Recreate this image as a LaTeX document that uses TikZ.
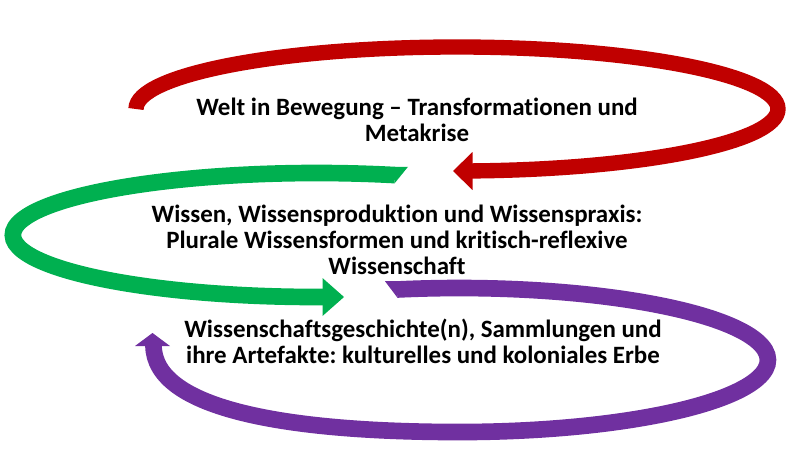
\documentclass[tikz,border=0pt]{standalone}
\usepackage{fontspec}
\setmainfont{Carlito}[Ligatures={NoCommon}]
\frenchspacing
\definecolor{weltred}{RGB}{192,0,0}
\definecolor{wissengreen}{RGB}{0,176,80}
\definecolor{erbepurple}{RGB}{112,48,160}
\tikzset{every picture/.style={line width=0.75pt}}
\tikzset{
  band/.style={line width=#1, line cap=butt},
  blocktext/.style={font=\bfseries\fontsize{18.7}{19.6}\selectfont, align=center, inner sep=0pt}
}

\begin{document}
\begin{tikzpicture}[x=0.75pt,y=0.75pt,yscale=-1,xscale=1]
	\useasboundingbox (0,0) rectangle (800,450);

	%Shape: Curved Arrow Red [id:weltarrow]
	\draw [band=11.5pt, draw=weltred] (136,109) arc [start angle=180, end angle=447.3, x radius=321, y radius=62] ;
	\fill [weltred] (472.5,152) -- (453,171) -- (472.5,190) -- cycle ;

	%Shape: Curved Arrow Green [id:wissenarrow]
	\draw [band=12.5pt, draw=wissengreen] (395,175.1) arc [start angle=284.9, end angle=88.8, x radius=304, y radius=62] ;
	\fill [wissengreen] (394.5,166.8) -- (408,166.8) -- (394.5,183.4) -- cycle ;
	\fill [wissengreen] (322.5,278) -- (344,297) -- (322.5,316) -- cycle ;

	%Shape: Curved Arrow Purple [id:erbearrow]
	\draw [band=12.5pt, draw=erbepurple] (397,289.5) arc [start angle=258.43, end angle=450, x radius=309, y radius=72] .. controls (290,432) and (154,410) .. (153.5,345.5) ;
	\fill [erbepurple] (397.5,281.2) -- (385,281.2) -- (397.5,297.8) -- cycle ;
	\fill [erbepurple] (135,346) -- (152.5,333) -- (170,346) -- cycle ;

	% Text Node
	\node [blocktext] (welt) at (417,120) {Welt in Bewegung – Transformationen und\\Metakrise};
	% Text Node
	\node [blocktext] (wissen) at (397,240) {Wissen, Wissensproduktion und Wissenspraxis:\\Plurale Wissensformen und kritisch-reflexive\\Wissenschaft};
	% Text Node
	\node [blocktext] (erbe) at (423,341) {Wissenschaftsgeschichte(n), Sammlungen und\\ihre Artefakte: kulturelles und koloniales Erbe};

\end{tikzpicture}
\end{document}
